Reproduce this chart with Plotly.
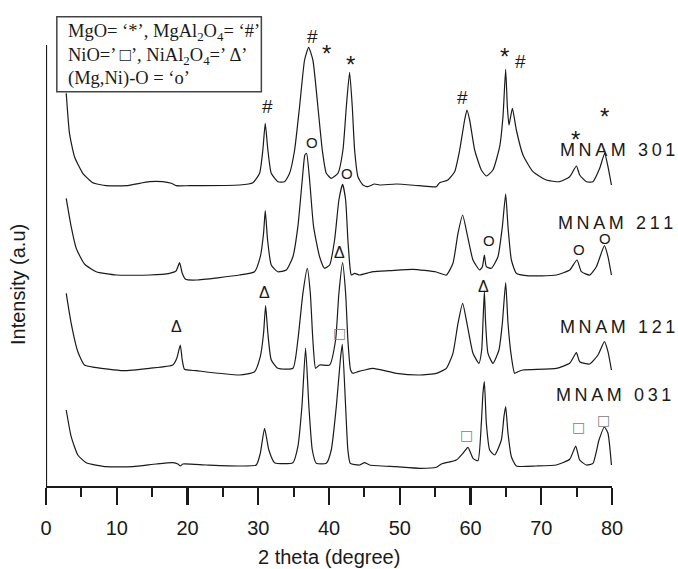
import plotly.graph_objects as go

# ---------------- data (2 theta in degrees, intensity in arbitrary units, already offset) -------------
x301 = [2.86, 3.32, 4.03, 5.20, 6.62, 8.51, 11.34, 14.63, 16.47, 17.70, 18.41, 20.29, 27.36, 29.24, 30.19,
        30.65, 30.99, 31.36, 31.84, 32.77, 33.72, 34.43, 35.14, 35.84, 36.55, 37.12, 37.72, 38.43, 39.05,
        39.62, 40.32, 41.26, 41.97, 42.45, 42.91, 43.29, 43.62, 44.09, 44.79, 45.50, 46.45, 47.15, 49.52,
        52.81, 55.17, 55.64, 56.81, 57.76, 58.47, 59.17, 59.50, 59.88, 60.59, 61.53, 62.24, 63.17, 64.12,
        64.59, 64.97, 65.21, 65.44, 65.92, 66.48, 67.42, 68.83, 70.72, 72.60, 74.02, 74.97, 75.43, 76.38,
        77.31, 78.26, 78.97, 79.43, 79.92]
y301 = [392.7, 352.7, 329.3, 312.7, 303.3, 300.3, 300.3, 304.3, 304.3, 302.7, 300.3, 300.3, 301, 303.3, 312.7,
        336, 362.7, 336, 312.7, 304.3, 304.3, 312.7, 336, 379.3, 426, 438.7, 426, 379.3, 336,
        312.7, 307.7, 312.7, 336, 379.3, 413.7, 379.3, 336, 309.3, 301, 299.3, 302, 301, 302,
        300.3, 299.3, 303.3, 306, 314.3, 336, 366, 376, 366, 336, 316, 310, 316, 339.3,
        369.3, 416.7, 379.3, 361, 377.7, 356, 331, 314.3, 306, 304.3, 309.3, 320, 311, 304.3,
        304.3, 317.7, 332.7, 319.3, 301]

x211 = [2.86, 3.56, 4.27, 5.44, 7.10, 9.93, 14.63, 17.46, 18.41, 18.88, 19.26, 19.72, 21.24, 27.36, 29.48,
        30.29, 30.75, 30.99, 31.32, 31.84, 32.77, 33.96, 34.90, 35.60, 36.22, 36.59, 36.83, 37.26, 37.82,
        38.67, 39.38, 40.09, 40.79, 41.40, 41.92, 42.35, 42.67, 43.01, 43.15, 43.62, 44.33, 46.21, 48.57,
        51.86, 55.17, 56.59, 57.52, 58.23, 58.89, 59.50, 60.35, 61.29, 61.68, 61.96, 62.24, 62.95, 63.88,
        64.50, 64.97, 65.30, 65.78, 66.48, 67.90, 72.14, 74.02, 75.05, 75.67, 76.85, 77.79, 78.93, 79.43,
        79.92]
y211 = [287.7, 259.3, 237.7, 222, 214.3, 211, 211, 212.7, 215.3, 223.3, 212.7, 206.7, 206, 211, 214.3,
        229.3, 252.7, 275.3, 246, 221, 214.3, 216, 229.3, 259.3, 306, 331, 332.7, 306, 259.3,
        229.3, 217.7, 221, 246, 286, 301.7, 286, 246, 216, 211, 212.7, 211, 214.3, 215.3,
        216.7, 214, 211, 222.7, 252.7, 271, 252.7, 226, 216, 219.3, 231, 219.3, 217.7, 229.3,
        259.3, 292, 259.3, 226, 212.7, 210.3, 211, 216, 226, 214.3, 211, 219.3, 240.3, 229.3,
        211]

x121 = [2.86, 3.56, 4.50, 5.44, 6.86, 10.86, 14.63, 17.93, 18.49, 18.98, 19.26, 19.58, 21.24, 27.36, 29.48,
        30.29, 30.75, 31.04, 31.36, 31.84, 32.77, 34.90, 35.60, 36.31, 36.93, 37.36, 37.72, 38.11, 38.67,
        40.09, 40.93, 41.40, 41.92, 42.35, 42.67, 43.05, 43.38, 44.09, 45.03, 46.21, 49.52, 52.81, 55.17,
        56.59, 57.52, 58.23, 58.89, 59.50, 60.35, 61.19, 61.58, 61.76, 61.96, 62.14, 62.47, 63.17, 64.02,
        64.50, 64.97, 65.30, 65.78, 66.24, 66.71, 67.42, 72.14, 74.02, 74.97, 75.43, 76.85, 78.02, 78.93,
        79.43, 79.92]
y121 = [192.7, 162.7, 134.3, 121, 118.7, 115.3, 117.7, 121, 127.7, 141, 126, 116.7, 115.3, 111, 114.3,
        129.3, 152.7, 180.3, 152.7, 126, 117.7, 117.7, 146, 192.7, 217.7, 192.7, 146, 117.7, 121,
        121, 146, 192.7, 223.3, 192.7, 146, 116, 112.7, 114.3, 116, 117.7, 112.7, 111, 112.7,
        117.7, 132.7, 162.7, 182.7, 162.7, 132.7, 122.7, 136, 162.7, 195, 162.7, 132.7, 122.7, 136,
        162.7, 203.3, 162.7, 129.3, 112.7, 114.3, 116, 117.7, 122.7, 133.3, 124.3, 122, 131, 144.3,
        134.3, 116]

x031 = [2.86, 3.56, 4.50, 5.68, 8.51, 12.27, 15.58, 17.93, 18.64, 18.98, 19.34, 22.65, 27.36, 29.72, 30.29,
        30.89, 31.50, 32.31, 34.90, 35.60, 36.17, 36.69, 37.16, 37.64, 38.20, 39.62, 40.32, 41.03, 41.60,
        41.88, 42.35, 42.67, 43.01, 44.33, 45.03, 45.74, 49.52, 52.81, 55.17, 55.88, 58.00, 58.93, 59.64,
        60.35, 61.05, 61.53, 61.76, 61.96, 62.24, 62.71, 63.42, 64.36, 64.73, 64.97, 65.30, 65.78, 66.48,
        69.31, 72.14, 74.02, 74.87, 75.43, 76.38, 77.31, 78.16, 78.93, 79.43, 79.92]
y031 = [76, 49.3, 31, 23.3, 19.3, 19.3, 22, 23.3, 22, 20, 22, 21, 20, 21, 32.7,
        57.7, 36, 23.3, 23.3, 39.3, 79.3, 137.7, 79.3, 36, 22.7, 22.7, 36, 79.3, 126,
        141.7, 79.3, 36, 22.7, 21, 23.3, 21, 19.3, 17.7, 18.7, 22, 26, 32.7, 38.7,
        27.7, 25.3, 62.7, 92.7, 104.3, 62.7, 36, 31, 46, 69.3, 79.3, 52.7, 29.3, 20,
        20, 21, 26.7, 40, 26, 21, 22.7, 46, 59, 52.7, 21]

sample_names = ["MNAM 301", "MNAM 211", "MNAM 121", "MNAM 031"]
x_ticks = [0, 10, 20, 30, 40, 50, 60, 70, 80]
x_title = "2 theta (degree)"
y_title = "Intensity (a.u)"
legend_lines = ["MgO= \u2018*\u2019, MgAl<sub>2</sub>O<sub>4</sub>= \u2018#\u2019",
                "NiO=\u2019 \u25a1\u2019, NiAl<sub>2</sub>O<sub>4</sub>=\u2019 \u0394\u2019",
                "(Mg,Ni)-O = \u2018o\u2019"]

# ---------------- figure ----------------
W, H = 678, 569
L, R, T, B = 46, 66, 0, 83
Y_MAX = 486.0

fig = go.Figure()
for xs, ys, nm in [(x301, y301, sample_names[0]), (x211, y211, sample_names[1]),
                   (x121, y121, sample_names[2]), (x031, y031, sample_names[3])]:
    fig.add_trace(go.Scatter(x=xs, y=ys, mode="lines", name=nm,
                             line=dict(color="#1a1a1a", width=1.2, shape="spline", smoothing=0.5),
                             hoverinfo="skip", showlegend=False))

SANS = "Liberation Sans, Arial, sans-serif"
SERIF = "Liberation Serif, Times New Roman, serif"
ann = []

def txt(x, y, s, size, family=SANS, color="#1a1a1a", xanchor="center", yanchor="middle", xref="x", yref="y"):
    ann.append(dict(x=x, y=y, xref=xref, yref=yref, text=s, showarrow=False,
                    xanchor=xanchor, yanchor=yanchor,
                    font=dict(family=family, size=size, color=color)))

# phase markers
for x, y in [(31.28, 380), (37.64, 449.3), (58.85, 388.3), (67.09, 425)]:
    txt(x, y, "#", 19)
for x, y in [(39.62, 437.7), (43.05, 426.7), (64.83, 434.3), (74.87, 351.7), (78.87, 375)]:
    txt(x, y - 5, "*", 24)
for x, y in [(37.64, 343.3), (42.53, 312.7), (62.57, 245.3), (75.29, 237), (78.97, 247.7)]:
    txt(x, y, "O", 15)
for x, y in [(41.50, 233.3), (30.90, 193.3), (18.49, 160), (61.90, 200)]:
    txt(x, y, "\u0394", 16)
for x, y in [(41.50, 152.7), (59.41, 51), (75.29, 58.7), (78.83, 66)]:
    txt(x, y, "\u25a1", 14, family="DejaVu Sans", color="#808080")

# sample labels (letter spaced)
def spaced(s):
    return "\u2009".join(list(s))
for (x, y), nm in zip([(72.32, 336), (72.14, 262.7), (72.32, 159), (71.76, 90.7)], sample_names):
    txt(x, y, spaced(nm), 18, xanchor="left")

# legend box text
for y, s in zip([453.4, 430, 407.7], legend_lines):
    txt(2.86, y, s, 18.5, family=SERIF, xanchor="left")

# axis titles
txt(40, (Y_MAX - 557) / Y_MAX, x_title, 20, xref="x", yref="paper")
ann.append(dict(x=(18 - L) / (W - L - R), y=(Y_MAX - 285), xref="paper", yref="y", text=y_title,
                showarrow=False, textangle=-90, xanchor="center", yanchor="middle",
                font=dict(family=SANS, size=20, color="#1a1a1a")))

shapes = [
    dict(type="rect", xref="x", yref="y", x0=1.53, x1=30.44, y0=394.3, y1=469.3,
         line=dict(color="#444444", width=1.5), fillcolor="white", layer="above"),
    dict(type="line", xref="x", yref="y", x0=0, x1=0, y0=0, y1=441,
         line=dict(color="#1a1a1a", width=2.2), layer="above"),
]

fig.update_layout(
    width=W, height=H, margin=dict(l=L, r=R, t=T, b=B, pad=0, autoexpand=False),
    paper_bgcolor="white", plot_bgcolor="white",
    annotations=ann, shapes=shapes, showlegend=False,
    xaxis=dict(range=[0, 80], tickvals=x_ticks, ticktext=[str(v) for v in x_ticks],
               showline=True, linecolor="#1a1a1a", linewidth=2.2, mirror=False,
               ticks="outside", ticklen=17, tickwidth=2.2, tickcolor="#1a1a1a",
               minor=dict(dtick=5, tick0=0, ticks="outside", ticklen=9, tickwidth=2.2, tickcolor="#1a1a1a",
                          showgrid=False),
               showgrid=False, zeroline=False, ticklabelstandoff=6,
               tickfont=dict(family=SANS, size=20, color="#1a1a1a")),
    yaxis=dict(range=[0, Y_MAX], showticklabels=False, showgrid=False, zeroline=False,
               showline=False, ticks=""),
)

fig.write_html("out.html", config={"displayModeBar": False, "staticPlot": True},
               post_script="document.body.style.margin='0px';")
